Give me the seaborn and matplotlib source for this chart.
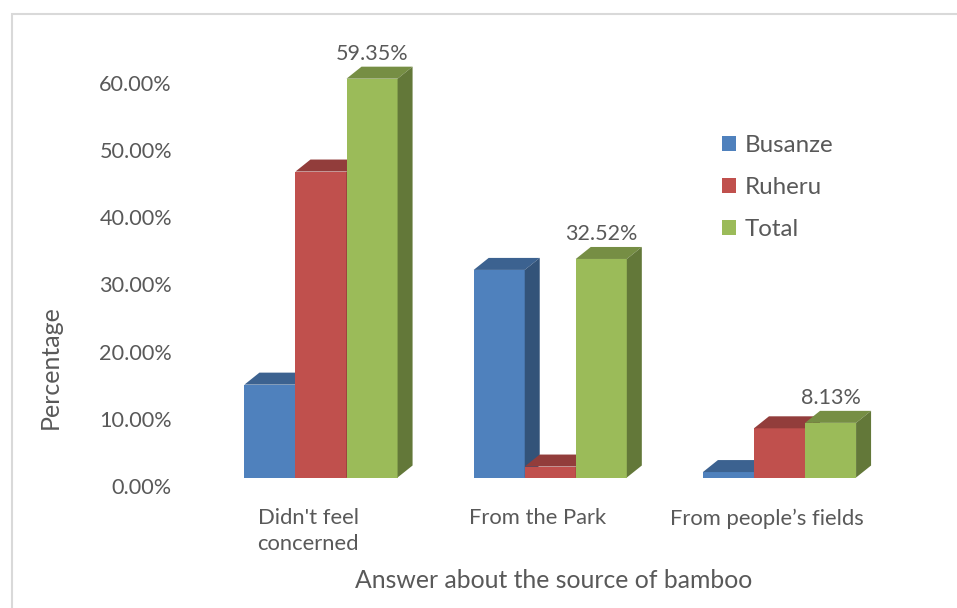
import numpy as np
import pandas as pd
import matplotlib
matplotlib.use("Agg")
import matplotlib.pyplot as plt
from matplotlib.patches import Polygon, Patch, Rectangle
from matplotlib import transforms
import seaborn as sns

# Survey answers: share of all respondents (n = 123), in percent
categories = ["Didn't feel\nconcerned", "From the Park", "From people\u2019s fields"]
busanze = [13.82, 30.89, 0.81]
ruheru = [45.53, 1.63, 7.32]
total = [59.35, 32.52, 8.13]
series_names = ["Busanze", "Ruheru", "Total"]
y_ticks = [0, 10, 20, 30, 40, 50, 60]

df = pd.DataFrame({
    "category": categories * 3,
    "value": busanze + ruheru + total,
    "series": [s for s in series_names for _ in categories],
})

colors = {"Busanze": "#4F81BD", "Ruheru": "#C0504D", "Total": "#9BBB59"}
text_color = "#595959"

sns.set_theme(style="white")
plt.rcParams["font.family"] = ["Lato", "DejaVu Sans"]

W, H = 957, 608
fig = plt.figure(figsize=(W / 100, H / 100), dpi=100)

# axes placement in pixels: category spacing and vertical scale
px_per_cat = 229.25
px_per_pct = 6.72
x0_px = 321.0          # centre of first category group (front face)
base_px = 477.5        # front baseline, measured from top
xlim = (-0.55, 2.55)
ylim = (0, 65)
left = x0_px + xlim[0] * px_per_cat
width = (xlim[1] - xlim[0]) * px_per_cat
height = (ylim[1] - ylim[0]) * px_per_pct
ax = fig.add_axes([left / W, (H - base_px) / H, width / W, height / H])

sns.barplot(data=df, x="category", y="value", hue="series",
            palette=colors, width=0.668, ax=ax, legend=False,
            linewidth=0, edgecolor="none", saturation=1)
ax.set_xlim(*xlim)
ax.set_ylim(*ylim)
for s in ax.spines.values():
    s.set_visible(False)
ax.set_xticks([])
ax.set_yticks([])
ax.set_xlabel("")
ax.set_ylabel("")
ax.patch.set_alpha(0)

# depth of the bars in pixels -> data units
dx = 15 / px_per_cat
dy = 12 / px_per_pct


def shade(rgb, f):
    r, g, b = rgb
    return (r * f, g * f, b * f)


bars = sorted(ax.patches, key=lambda p: p.get_x())
z = 2
for bar in bars:
    x = bar.get_x()
    w = bar.get_width()
    h = bar.get_height()
    fc = bar.get_facecolor()
    bar.set_zorder(z)
    top = Polygon([(x, h), (x + dx, h + dy), (x + w + dx, h + dy), (x + w, h)],
                  closed=True, facecolor=shade(fc[:3], 0.76), edgecolor="none",
                  zorder=z + 0.1)
    side = Polygon([(x + w, 0), (x + w, h), (x + w + dx, h + dy), (x + w + dx, dy)],
                   closed=True, facecolor=shade(fc[:3], 0.64), edgecolor="none",
                   zorder=z + 0.2)
    ax.add_patch(top)
    ax.add_patch(side)
    z += 1

# value labels on the Total bars
for i, v in enumerate(total):
    ax.annotate(f"{v:.2f}%", xy=(i + 0.2227, v), xytext=(0, 15),
                textcoords="offset pixels", ha="center", va="bottom",
                fontsize=15.5, color=text_color, zorder=50)

# y tick labels, aligned with the back wall
ytrans = transforms.offset_copy(
    transforms.blended_transform_factory(fig.transFigure, ax.transData),
    fig=fig, x=0, y=-10.5, units="dots")
for t in y_ticks:
    ax.text(172 / W, t, f"{t:.2f}%", transform=ytrans, ha="right", va="center",
            fontsize=15.6, color=text_color, clip_on=False)

# category labels under the floor
xtrans = transforms.offset_copy(ax.transData, fig=fig, x=-13, y=-31, units="dots")
for i, c in enumerate(categories):
    ax.text(i, 0, c, transform=xtrans, ha="center", va="top", fontsize=15.8,
            color=text_color, linespacing=1.32, clip_on=False)

fig.text(554 / W, 1 - 580 / H, "Answer about the source of bamboo", ha="center",
         va="center", fontsize=17.8, color=text_color)
fig.text(50 / W, 1 - 367 / H, "Percentage", ha="center", va="center",
         rotation=90, fontsize=18, color=text_color)

handles = [Patch(facecolor=colors[s], edgecolor="none", label=s) for s in series_names]
leg = fig.legend(handles=handles, loc="upper left",
                 bbox_to_anchor=(722 / W, 1 - 135 / H), frameon=False,
                 fontsize=17.4, handlelength=0.58, handleheight=0.58,
                 handletextpad=0.37, labelspacing=0.86, borderpad=0,
                 borderaxespad=0)
for t in leg.get_texts():
    t.set_color(text_color)

# chart border
fig.patches.append(Rectangle((12 / W, -0.1), 1.2, 1 - 14 / H + 0.1,
                             transform=fig.transFigure, fill=False,
                             edgecolor="#D9D9D9", linewidth=1.5, zorder=0))

fig.savefig("out.png", dpi=100)
